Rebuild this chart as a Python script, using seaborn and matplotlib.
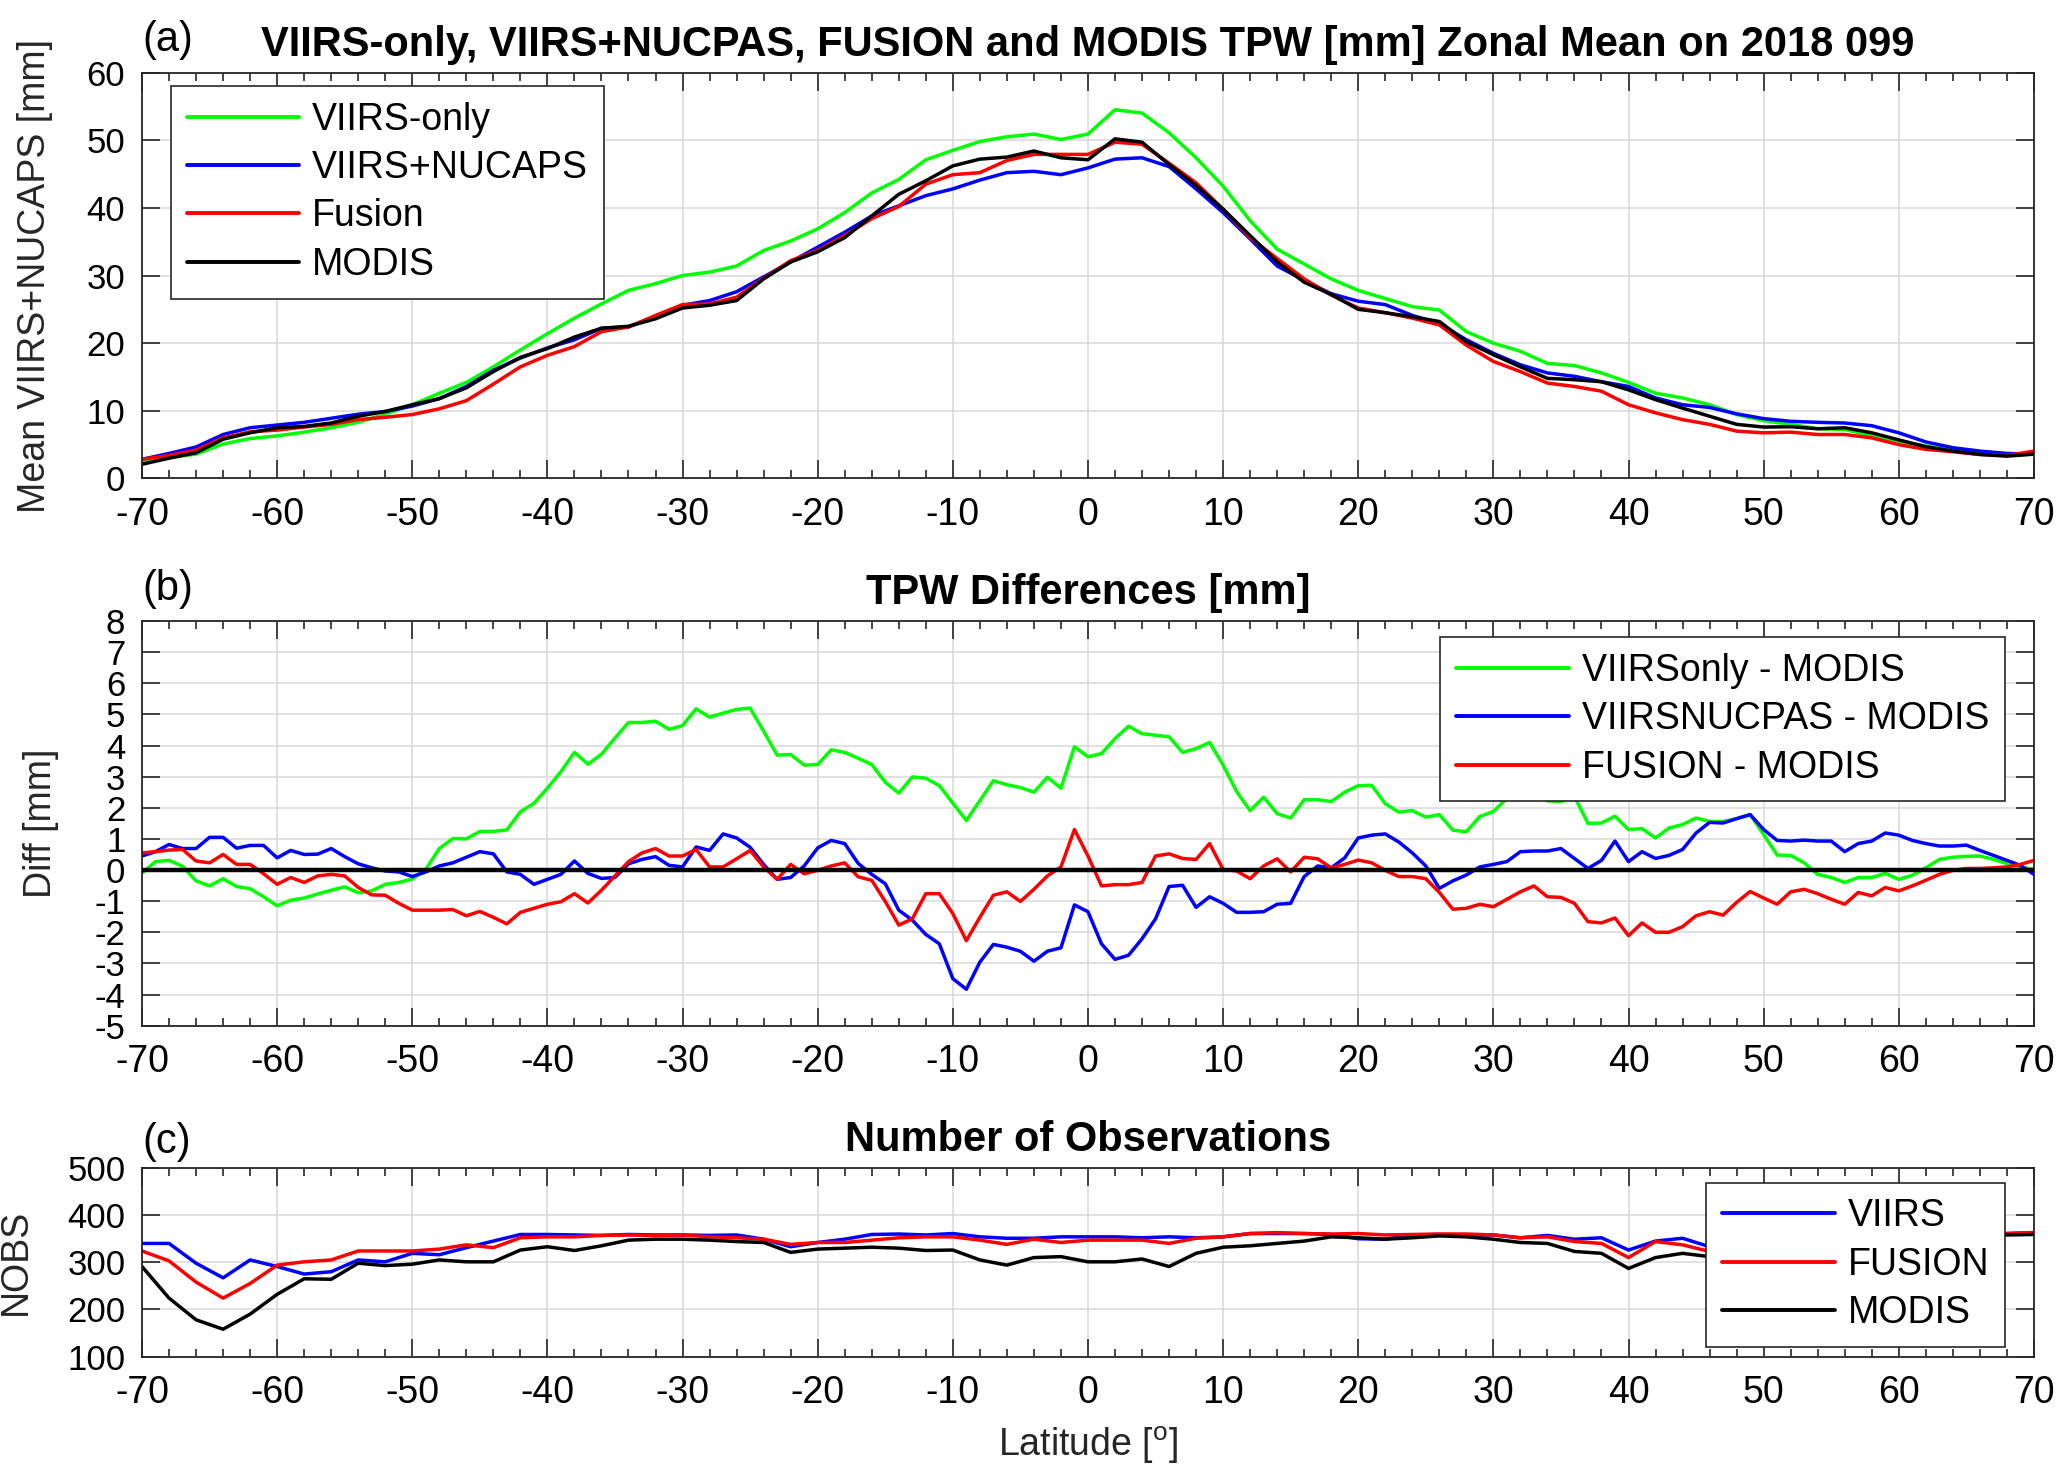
import numpy as np
import matplotlib
matplotlib.use('Agg')
import matplotlib.pyplot as plt
import seaborn as sns
from matplotlib.ticker import MultipleLocator

# latitude grids (2 deg for means / NOBS, 1 deg for differences)
lat2 = np.arange(-70, 71, 2)
lat1 = np.arange(-70, 71, 1)

# panel (a): zonal mean TPW [mm]
viirs_only_tpw = [2.35, 3.1, 3.6, 5.1, 5.9, 6.3, 6.85, 7.5, 8.3, 9.5,
                  10.9, 12.6, 14.2, 16.5, 19.0, 21.4, 23.7, 25.8, 27.8, 28.8,
                  30.0, 30.5, 31.4, 33.7, 35.1, 36.9, 39.3, 42.2, 44.2, 47.1,
                  48.5, 49.8, 50.5, 50.9, 50.1, 50.9, 54.5, 54.0, 51.1, 47.4,
                  43.2, 38.1, 33.9, 31.7, 29.5, 27.8, 26.6, 25.4, 24.9, 21.7,
                  20.0, 18.8, 17.0, 16.7, 15.6, 14.2, 12.6, 11.9, 10.9, 9.45,
                  8.55, 8.0, 7.35, 7.25, 6.3, 5.5, 4.8, 4.15, 3.7, 3.4,
                  3.6]
viirs_nucaps_tpw = [2.84, 3.7, 4.65, 6.5, 7.5, 7.9, 8.3, 8.9, 9.5, 9.9,
                    10.7, 11.8, 13.6, 16.0, 17.8, 19.3, 20.5, 22.2, 22.4, 23.9,
                    25.6, 26.3, 27.6, 29.8, 32.0, 34.2, 36.4, 38.8, 40.3, 41.8,
                    42.8, 44.1, 45.2, 45.4, 44.9, 45.9, 47.2, 47.4, 46.1, 42.8,
                    39.3, 35.4, 31.4, 29.3, 27.3, 26.2, 25.7, 24.1, 22.9, 20.5,
                    18.5, 16.8, 15.6, 15.1, 14.3, 13.6, 11.9, 10.9, 10.5, 9.55,
                    8.85, 8.45, 8.3, 8.2, 7.8, 6.75, 5.4, 4.55, 4.05, 3.7,
                    3.6]
fusion_tpw = [2.84, 3.4, 4.2, 6.0, 6.9, 7.15, 7.6, 8.0, 8.7, 9.05,
              9.45, 10.3, 11.5, 13.95, 16.5, 18.2, 19.5, 21.7, 22.4, 24.1,
              25.7, 25.8, 26.8, 29.6, 32.2, 33.7, 35.9, 38.4, 40.2, 43.5,
              44.9, 45.2, 47.0, 47.9, 47.9, 47.9, 49.7, 49.4, 46.6, 43.7,
              39.8, 35.6, 32.5, 29.5, 27.1, 25.2, 24.5, 23.7, 22.7, 19.7,
              17.3, 15.8, 14.1, 13.6, 12.9, 10.9, 9.7, 8.7, 8.0, 7.0,
              6.75, 6.85, 6.5, 6.5, 6.0, 5.0, 4.3, 3.95, 3.55, 3.4,
              4.05]
modis_tpw = [2.1, 3.0, 3.8, 5.8, 6.75, 7.5, 7.7, 8.2, 9.2, 9.9,
             10.9, 11.8, 13.4, 15.8, 17.9, 19.2, 20.9, 22.2, 22.5, 23.6,
             25.2, 25.6, 26.3, 29.5, 32.0, 33.5, 35.6, 38.8, 42.0, 44.0,
             46.2, 47.2, 47.5, 48.4, 47.4, 47.1, 50.2, 49.7, 46.4, 43.3,
             39.8, 35.9, 32.0, 29.0, 27.2, 25.0, 24.5, 23.9, 23.2, 20.2,
             18.3, 16.5, 14.8, 14.6, 14.3, 13.1, 11.65, 10.4, 9.2, 8.0,
             7.6, 7.65, 7.35, 7.5, 6.75, 5.7, 4.7, 4.05, 3.55, 3.3,
             3.6]

# panel (b): differences [mm]
diff_viirs_only = [-0.1, 0.27, 0.31, 0.12, -0.35, -0.51, -0.28, -0.53, -0.6, -0.86,
                   -1.15, -0.97, -0.9, -0.77, -0.65, -0.54, -0.73, -0.67, -0.46, -0.4,
                   -0.29, 0.02, 0.69, 1.01, 1.0, 1.24, 1.24, 1.29, 1.87, 2.14,
                   2.63, 3.16, 3.78, 3.4, 3.72, 4.24, 4.74, 4.74, 4.78, 4.52,
                   4.64, 5.18, 4.91, 5.04, 5.16, 5.2, 4.46, 3.69, 3.71, 3.37,
                   3.39, 3.86, 3.78, 3.59, 3.39, 2.82, 2.47, 2.99, 2.95, 2.71,
                   2.15, 1.59, 2.23, 2.87, 2.74, 2.65, 2.5, 2.98, 2.63, 3.96,
                   3.64, 3.74, 4.22, 4.62, 4.38, 4.33, 4.28, 3.78, 3.9, 4.1,
                   3.37, 2.52, 1.91, 2.34, 1.81, 1.67, 2.26, 2.26, 2.2, 2.5,
                   2.71, 2.72, 2.13, 1.86, 1.91, 1.7, 1.78, 1.28, 1.23, 1.72,
                   1.88, 2.3, 2.6, 2.8, 2.22, 2.2, 2.36, 1.5, 1.51, 1.73,
                   1.3, 1.33, 1.03, 1.35, 1.46, 1.67, 1.56, 1.56, 1.65, 1.78,
                   1.14, 0.48, 0.47, 0.23, -0.14, -0.24, -0.4, -0.24, -0.24, -0.11,
                   -0.3, -0.17, 0.07, 0.34, 0.41, 0.44, 0.45, 0.34, 0.21, 0.1, 0.02]
diff_viirs_nucaps = [0.45, 0.59, 0.82, 0.69, 0.69, 1.05, 1.05, 0.7, 0.79, 0.79,
                     0.39, 0.63, 0.5, 0.51, 0.69, 0.43, 0.2, 0.07, -0.03, -0.06,
                     -0.21, -0.06, 0.13, 0.23, 0.41, 0.59, 0.52, -0.06, -0.14, -0.46,
                     -0.3, -0.14, 0.29, -0.11, -0.27, -0.24, 0.2, 0.34, 0.43, 0.15,
                     0.1, 0.74, 0.63, 1.16, 1.03, 0.73, 0.18, -0.3, -0.24, 0.13,
                     0.71, 0.95, 0.85, 0.21, -0.14, -0.44, -1.29, -1.61, -2.07, -2.37,
                     -3.49, -3.83, -2.96, -2.39, -2.48, -2.61, -2.93, -2.61, -2.5, -1.12,
                     -1.34, -2.37, -2.87, -2.74, -2.21, -1.57, -0.53, -0.49, -1.2, -0.86,
                     -1.07, -1.36, -1.36, -1.34, -1.1, -1.07, -0.21, 0.13, 0.07, 0.39,
                     1.03, 1.12, 1.16, 0.9, 0.55, 0.13, -0.59, -0.35, -0.16, 0.1,
                     0.18, 0.27, 0.59, 0.61, 0.61, 0.69, 0.37, 0.05, 0.31, 0.93,
                     0.27, 0.59, 0.37, 0.47, 0.66, 1.19, 1.53, 1.51, 1.65, 1.78,
                     1.3, 0.95, 0.93, 0.96, 0.93, 0.93, 0.59, 0.85, 0.93, 1.19,
                     1.12, 0.95, 0.85, 0.77, 0.77, 0.8, 0.63, 0.47, 0.31, 0.15, -0.14]
diff_fusion = [0.55, 0.59, 0.64, 0.66, 0.29, 0.23, 0.5, 0.18, 0.18, -0.12,
               -0.46, -0.24, -0.4, -0.19, -0.14, -0.19, -0.56, -0.8, -0.81, -1.07,
               -1.29, -1.29, -1.29, -1.27, -1.47, -1.33, -1.52, -1.73, -1.36, -1.23,
               -1.1, -1.02, -0.76, -1.06, -0.65, -0.19, 0.27, 0.55, 0.69, 0.45,
               0.45, 0.66, 0.1, 0.1, 0.36, 0.63, 0.1, -0.3, 0.18, -0.12,
               -0.01, 0.13, 0.23, -0.22, -0.33, -1.01, -1.77, -1.57, -0.76, -0.76,
               -1.4, -2.27, -1.52, -0.81, -0.7, -1.01, -0.62, -0.19, 0.1, 1.3,
               0.45, -0.51, -0.47, -0.47, -0.4, 0.45, 0.52, 0.37, 0.34, 0.85,
               0.02, -0.03, -0.28, 0.13, 0.36, -0.06, 0.41, 0.36, 0.07, 0.18,
               0.32, 0.23, -0.01, -0.21, -0.21, -0.28, -0.72, -1.26, -1.23, -1.1,
               -1.18, -0.94, -0.7, -0.51, -0.86, -0.88, -1.07, -1.66, -1.7, -1.54,
               -2.11, -1.7, -2.0, -2.0, -1.82, -1.47, -1.34, -1.45, -1.04, -0.69,
               -0.9, -1.1, -0.7, -0.62, -0.76, -0.94, -1.1, -0.72, -0.83, -0.56,
               -0.67, -0.51, -0.33, -0.14, -0.01, 0.05, 0.05, 0.07, 0.1, 0.18, 0.31]

# panel (c): number of observations
nobs_viirs = [340, 340, 298, 267, 305, 291, 275, 280, 305, 301,
              319, 316, 331, 345, 359, 359, 358, 357, 359, 358,
              358, 357, 358, 349, 333, 342, 349, 359, 360, 358,
              361, 354, 351, 351, 354, 354, 354, 352, 354, 352,
              354, 361, 361, 361, 359, 350, 349, 358, 359, 358,
              358, 352, 357, 349, 352, 326, 345, 351, 333, 335,
              340, 345, 348, 350, 352, 354, 355, 357, 358, 361,
              363]
nobs_fusion = [324, 303, 258, 224, 255, 294, 301, 305, 324, 324,
               324, 328, 337, 331, 352, 354, 354, 357, 358, 357,
               358, 354, 352, 349, 338, 342, 342, 347, 352, 354,
               354, 347, 338, 349, 342, 347, 347, 347, 340, 351,
               354, 361, 363, 361, 360, 361, 358, 359, 360, 360,
               358, 352, 354, 344, 340, 310, 344, 337, 323, 322,
               328, 335, 340, 345, 348, 350, 352, 355, 357, 361,
               363]
nobs_modis = [291, 224, 178, 158, 190, 232, 265, 264, 298, 293,
              296, 305, 301, 301, 326, 333, 325, 335, 347, 349,
              349, 347, 344, 342, 321, 328, 330, 332, 330, 325,
              326, 305, 294, 310, 312, 301, 301, 307, 291, 319,
              332, 335, 340, 345, 354, 352, 349, 352, 356, 354,
              349, 342, 340, 323, 319, 287, 310, 319, 312, 318,
              322, 328, 333, 338, 342, 346, 349, 352, 355, 358,
              359]

GREEN, BLUE, RED, BLACK = '#00ff00', '#0000ff', '#ff0000', '#000000'
AXC = '#262626'
LW = 2.5
FS = 27

sns.set_theme(style='white')
plt.rcParams['font.family'] = ['Liberation Sans', 'DejaVu Sans']
plt.rcParams['text.color'] = 'black'
plt.rcParams['axes.unicode_minus'] = False

fig = plt.figure(figsize=(20.67, 14.80), dpi=100)
ax1 = fig.add_axes([0.0687, 0.6767, 0.9153, 0.2743])
ax2 = fig.add_axes([0.0687, 0.3070, 0.9153, 0.2734])
ax3 = fig.add_axes([0.0687, 0.0834, 0.9153, 0.1274])


def style_axis(ax, ylim, yticks):
    ax.set_xlim(-70, 70)
    ax.set_ylim(*ylim)
    ax.set_xticks(range(-70, 71, 10))
    ax.xaxis.set_minor_locator(MultipleLocator(2))
    ax.set_yticks(yticks)
    ax.tick_params(which='both', direction='in', top=True, right=True,
                   bottom=True, left=True, colors=AXC, labelcolor='black')
    ax.tick_params(which='major', length=13, width=1.2)
    ax.tick_params(axis='x', which='major', pad=13, labelsize=FS)
    ax.tick_params(axis='y', which='major', pad=12, labelsize=25)
    ax.tick_params(which='minor', length=6, width=1.2)
    ax.grid(True, which='major', color='#d8d8d8', linewidth=1.1)
    ax.set_axisbelow(True)
    for s in ax.spines.values():
        s.set_visible(True)
        s.set_color(AXC)
        s.set_linewidth(1.3)
    ax.set_xlabel('')


def add_legend(ax, **kw):
    leg = ax.legend(fontsize=FS, frameon=True, fancybox=False, framealpha=1,
                    edgecolor=AXC, handlelength=3.0, handletextpad=0.35,
                    labelspacing=0.33, borderpad=0.42, borderaxespad=0, **kw)
    leg.get_frame().set_linewidth(1.2)
    for h in leg.get_lines():
        h.set_linewidth(LW + 0.3)
    return leg


def panel_tag(ax, tag):
    ax.text(0.0, 1.03, tag, transform=ax.transAxes, ha='left', va='bottom',
            fontsize=30)


# (a) zonal means
sns.lineplot(x=lat2, y=viirs_only_tpw, ax=ax1, color=GREEN, lw=LW, label='VIIRS-only')
sns.lineplot(x=lat2, y=viirs_nucaps_tpw, ax=ax1, color=BLUE, lw=LW, label='VIIRS+NUCAPS')
sns.lineplot(x=lat2, y=fusion_tpw, ax=ax1, color=RED, lw=LW, label='Fusion')
sns.lineplot(x=lat2, y=modis_tpw, ax=ax1, color=BLACK, lw=LW, label='MODIS')
style_axis(ax1, (0, 60), range(0, 61, 10))
ax1.set_ylabel('Mean VIIRS+NUCAPS [mm]', fontsize=FS)
ax1.yaxis.set_label_coords(-0.047, 0.5)
ax1.set_title('VIIRS-only, VIIRS+NUCPAS, FUSION and MODIS TPW [mm] Zonal Mean on 2018 099',
              fontsize=30, fontweight='bold', pad=12)
panel_tag(ax1, '(a)')
add_legend(ax1, loc='upper left', bbox_to_anchor=(0.0153, 0.967))

# (b) differences
sns.lineplot(x=lat1, y=diff_viirs_only, ax=ax2, color=GREEN, lw=LW, label='VIIRSonly - MODIS')
sns.lineplot(x=lat1, y=diff_viirs_nucaps, ax=ax2, color=BLUE, lw=LW, label='VIIRSNUCPAS - MODIS')
sns.lineplot(x=lat1, y=diff_fusion, ax=ax2, color=RED, lw=LW, label='FUSION - MODIS')
ax2.axhline(0, color='black', lw=3.2, zorder=3)
style_axis(ax2, (-5, 8), range(-5, 9, 1))
ax2.set_ylabel('Diff [mm]', fontsize=FS)
ax2.yaxis.set_label_coords(-0.044, 0.5)
ax2.set_title('TPW Differences [mm]', fontsize=30, fontweight='bold', pad=12)
panel_tag(ax2, '(b)')
add_legend(ax2, loc='upper right', bbox_to_anchor=(0.9847, 0.96))

# (c) number of observations
sns.lineplot(x=lat2, y=nobs_viirs, ax=ax3, color=BLUE, lw=LW, label='VIIRS')
sns.lineplot(x=lat2, y=nobs_fusion, ax=ax3, color=RED, lw=LW, label='FUSION')
sns.lineplot(x=lat2, y=nobs_modis, ax=ax3, color=BLACK, lw=LW, label='MODIS')
style_axis(ax3, (100, 500), range(100, 501, 100))
ax3.set_ylabel('NOBS', fontsize=FS)
ax3.yaxis.set_label_coords(-0.057, 0.5)
ax3.set_xlabel('Latitude [$^{\\mathregular{o}}$]', fontsize=FS, labelpad=10)
ax3.set_title('Number of Observations', fontsize=30, fontweight='bold', pad=12)
panel_tag(ax3, '(c)')
add_legend(ax3, loc='upper right', bbox_to_anchor=(0.9847, 0.923))

fig.savefig('out.png', dpi=100)
